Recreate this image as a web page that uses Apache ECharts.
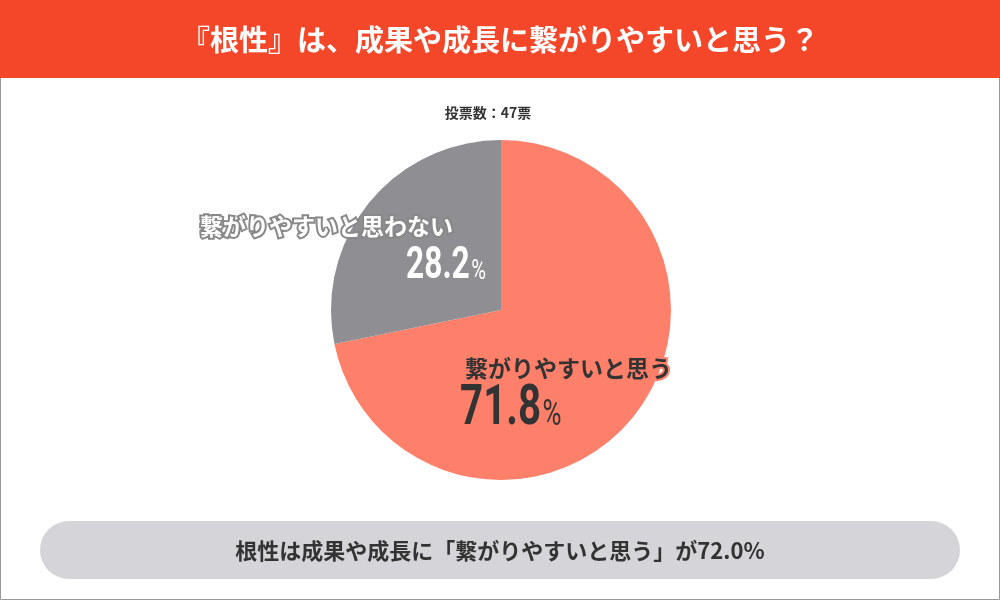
<!DOCTYPE html><html><head><meta charset="utf-8"><script src="https://cdn.jsdelivr.net/npm/echarts@6/dist/echarts.min.js"></script>
<style>body{margin:0}#c{width:1000px;height:600px}</style></head><body><div id="c"></div><script>
const title='『根性』は、成果や成長に繋がりやすいと思う？';
const subtitle='投票数：47票';
const categories=['繋がりやすいと思う','繋がりやすいと思わない'];
const values=[71.8,28.2];
const colors=['#FF806A','#8E8E93'];
const summary='根性は成果や成長に「繋がりやすいと思う」が72.0%';
const f='"Noto Sans CJK JP"';
const num='Roboto';
const chart=echarts.init(document.getElementById('c'));
chart.setOption({
 backgroundColor:'#fff',
 series:[{type:'pie',center:[501,310],radius:[0,170],startAngle:90,clockwise:true,silent:true,z:1,
  label:{show:false},labelLine:{show:false},
  data:categories.map((n,i)=>({name:n,value:values[i],itemStyle:{color:colors[i]}}))}],
 graphic:[
  {type:'rect',shape:{x:0.5,y:0.5,width:999,height:599},style:{fill:'none',stroke:'#999',lineWidth:1},z:-1},
  {type:'rect',shape:{x:0,y:0,width:1000,height:78},style:{fill:'#F4472A'}},
  {type:'text',x:500,y:40,style:{text:title,fill:'#fff',font:'bold 29px '+f,align:'center',verticalAlign:'middle'}},
  {type:'text',x:488,y:113,style:{text:subtitle,fill:'#333',font:'bold 14px '+f,align:'center',verticalAlign:'middle'}},
  {type:'rect',shape:{x:40,y:521,width:920,height:58,r:29},style:{fill:'#D4D4D9'}},
  {type:'text',x:500,y:551,style:{text:summary,fill:'#333',font:'bold 22px '+f,align:'center',verticalAlign:'middle'}},
  {type:'text',z:100,x:200,y:226,style:{text:categories[1],fill:'#fff',stroke:'#888',lineWidth:4,font:'bold 23px '+f,verticalAlign:'middle'}},
  {type:'text',z:100,x:486,y:267,scaleX:0.72,style:{text:'{n|'+values[1].toFixed(1)+'}{p|%}',align:'right',verticalAlign:'middle',
    rich:{n:{fill:'#fff',font:'bold 44px '+num},p:{fill:'#fff',font:'28px '+num,padding:[10,0,0,2]}}}},
  {type:'text',z:100,x:465,y:368,style:{text:categories[0],fill:'#333',stroke:'#FF806A',lineWidth:4,font:'bold 23px '+f,verticalAlign:'middle'}},
  {type:'text',z:100,x:460,y:410,scaleX:0.72,style:{text:'{n|'+values[0].toFixed(1)+'}{p|%}',align:'left',verticalAlign:'middle',
    rich:{n:{fill:'#333',font:'bold 56px '+num},p:{fill:'#333',font:'36px '+num,padding:[12,0,0,2]}}}}
 ]});
</script></body></html>
